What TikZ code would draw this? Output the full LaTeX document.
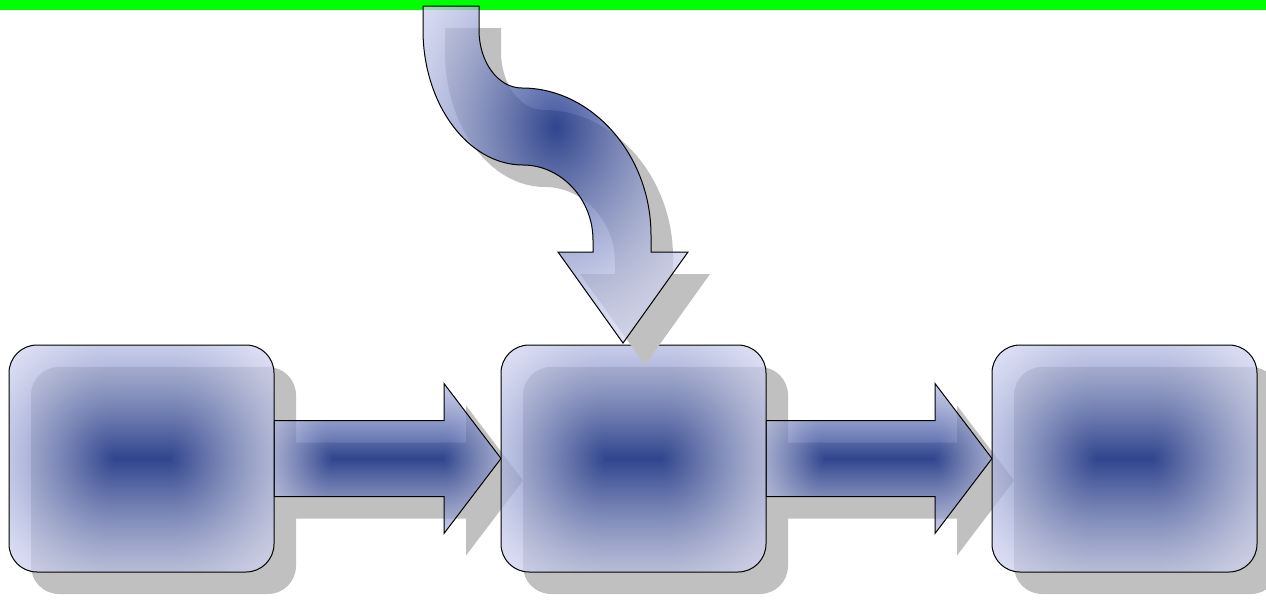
\documentclass[tikz,border=0pt]{standalone}
\usepackage{tikz}
\usetikzlibrary{shadows}
\definecolor{barcol}{HTML}{00FF00}
\definecolor{shadowcol}{HTML}{C0C0C0}
% t (0 at the rim, 1 in the middle) -> light lavender .. navy
\newcommand{\tocolour}{1.5 exp dup -0.84 mul 0.84 add exch dup -0.74 mul 0.85 add exch -0.46 mul 0.95 add}
% elliptic gradient round a short middle line, #2 = width/height, #3 = half line
\newcommand{\rectshade}[3]{%
\pgfdeclarefunctionalshading{#1}{\pgfpoint{-50bp}{-50bp}}{\pgfpoint{50bp}{50bp}}{}{
50 div dup mul exch abs #2 mul 50 div #3 sub dup 0 lt {pop 0} if
dup mul add sqrt 1.4142 mul 1 exch sub dup 0 lt {pop 0} if \tocolour}}
\rectshade{boxshade}{1.1674}{0.1184}
\rectshade{arrowshade}{1.5133}{0.3630}
\pgfdeclarefunctionalshading{curveshade}{\pgfpoint{-50bp}{-50bp}}{\pgfpoint{50bp}{50bp}}{}{
7.05 sub dup mul exch dup mul add sqrt 0.0283 mul 1 exch sub dup 0 lt {pop 0} if \tocolour}
\pgfdeclarelayer{shadowlayer}
\pgfdeclarelayer{arrowlayer}
\pgfsetlayers{shadowlayer,arrowlayer,main}
\tikzstyle{box}=[
    rectangle,
    rounded corners=14pt,
    minimum width=132.5pt,
    minimum height=113.5pt,
    inner sep=0pt,
    outer sep=0pt,
    draw=black,
    line width=0.5pt,
    shade,
    shading=boxshade,
    fill opacity=0.75
]
\tikzstyle{boxshadow}=[
    shadowcol,
    rounded corners=14pt
]
\tikzstyle{blockarrow}=[
    draw=black,
    line width=0.5pt,
    line join=miter,
    shade,
    shading=arrowshade,
    fill opacity=0.75,
    drop shadow={shadow xshift=11pt, shadow yshift=-11pt, fill=shadowcol, opacity=1}
]

\begin{document}
\begin{tikzpicture}[x=0.5pt, y=-0.5pt]
\useasboundingbox (0,0) rectangle (1266,600);
\fill[barcol] (0,0) rectangle (1266,10);

\foreach \n/\x in {1/141.5, 2/633.5, 3/1124.5}{
    \node[box] at (\x, 458.5) (b\n) {};
    \begin{pgfonlayer}{shadowlayer}
        \fill[boxshadow] ([shift={(11pt,-11pt)}]b\n.south west) rectangle ([shift={(11pt,-11pt)}]b\n.north east);
    \end{pgfonlayer}
}

\begin{pgfonlayer}{arrowlayer}
\foreach \a/\b in {1/2, 2/3}{
    \draw[blockarrow] ([yshift=19pt]b\a.east) -- ([xshift=-28.5pt, yshift=19pt]b\b.west)
        -- ([xshift=-28.5pt, yshift=37.5pt]b\b.west) -- (b\b.west)
        -- ([xshift=-28.5pt, yshift=-37.5pt]b\b.west) -- ([xshift=-28.5pt, yshift=-19pt]b\b.west)
        -- ([yshift=-19pt]b\a.east) -- cycle;
}
\end{pgfonlayer}

% arrow coming in from the top bar
\coordinate (src) at (451,6);
\draw[blockarrow, shading=curveshade] ([xshift=14pt]src) -- ([xshift=-14pt]src) -- (423,30)
    .. controls (423,104) and (468,165) .. (523,165)
    .. controls (561,165) and (593,199) .. (593,240) -- (593,252) -- (558,252)
    -- ([xshift=-5.25pt, yshift=1pt]b2.north) -- (688,252) -- (651,252) -- (651,235)
    .. controls (651,155) and (592,88) .. (522,88)
    .. controls (498,88) and (479,62) .. (479,30) -- cycle;
\end{tikzpicture}
\end{document}
